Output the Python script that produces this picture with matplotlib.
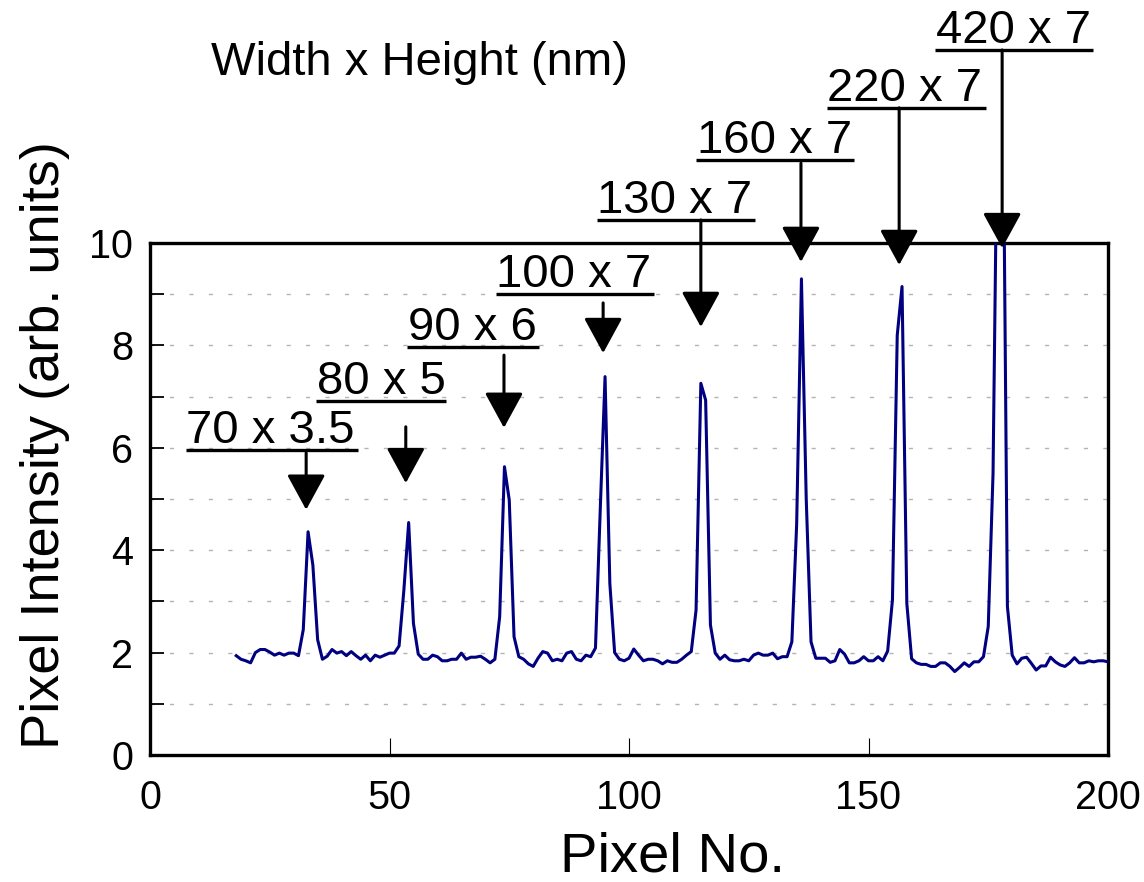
import numpy as np
import matplotlib
matplotlib.use("Agg")
import matplotlib.pyplot as plt

plt.rcParams["font.family"] = ["Liberation Sans", "DejaVu Sans"]
plt.rcParams["lines.scale_dashes"] = False

# pixel profile across the line array
pixel_no = np.arange(18, 201)
intensity = [
    1.94, 1.87, 1.84, 1.80, 2.00, 2.06, 2.06, 2.01, 1.95, 1.99,   # 18-27
    1.95, 1.99, 1.99, 1.94, 2.45, 4.36, 3.71, 2.25, 1.87, 1.93,   # 28-37
    2.06, 1.99, 2.02, 1.94, 2.02, 1.94, 1.87, 1.95, 1.84, 1.95,   # 38-47
    1.91, 1.95, 1.99, 1.99, 2.13, 3.22, 4.54, 2.57, 1.97, 1.87,   # 48-57
    1.87, 1.95, 1.92, 1.84, 1.84, 1.87, 1.87, 1.99, 1.87, 1.91,   # 58-67
    1.91, 1.93, 1.87, 1.80, 1.87, 2.70, 5.63, 4.98, 2.31, 1.92,   # 68-77
    1.87, 1.78, 1.73, 1.89, 2.02, 1.99, 1.84, 1.87, 1.84, 1.99,   # 78-87
    2.02, 1.87, 1.84, 1.95, 1.92, 2.09, 4.80, 7.39, 3.35, 2.00,   # 88-97
    1.87, 1.84, 1.89, 2.07, 1.95, 1.84, 1.87, 1.87, 1.84, 1.78,   # 98-107
    1.84, 1.81, 1.81, 1.87, 1.95, 2.02, 2.83, 7.26, 6.93, 2.54,   # 108-117
    1.99, 1.87, 1.95, 1.86, 1.84, 1.84, 1.87, 1.84, 1.95, 1.99,   # 118-127
    1.95, 1.95, 1.99, 1.88, 1.92, 1.92, 2.21, 4.50, 9.30, 5.00,   # 128-137
    2.21, 1.89, 1.89, 1.89, 1.81, 1.84, 2.06, 1.97, 1.80, 1.80,   # 138-147
    1.84, 1.92, 1.84, 1.84, 1.92, 1.84, 2.03, 3.03, 8.20, 9.15,   # 148-157
    2.96, 1.88, 1.80, 1.77, 1.77, 1.73, 1.73, 1.80, 1.80, 1.73,   # 158-167
    1.63, 1.71, 1.80, 1.73, 1.82, 1.82, 1.92, 2.51, 5.50, 13.5,   # 168-177
    14.0, 2.90, 1.95, 1.78, 1.89, 1.91, 1.79, 1.66, 1.74, 1.74,   # 178-187
    1.91, 1.82, 1.76, 1.73, 1.80, 1.90, 1.80, 1.80, 1.84, 1.82,   # 188-197
    1.84, 1.84, 1.82,                                             # 198-200
]

# line sizes (width x height, nm) and which peak each one marks
labels = ["70 x 3.5", "80 x 5", "90 x 6", "100 x 7",
          "130 x 7", "160 x 7", "220 x 7", "420 x 7"]

# annotation layout in data units: underline (x0, x1, y), arrow (x, y_start, y_tip)
underline_x0 = [7.5, 34.7, 53.7, 72.2, 93.3, 114.0, 141.3, 163.9]
underline_x1 = [43.4, 61.8, 81.2, 105.2, 126.3, 147.0, 174.5, 196.9]
underline_y = [5.96, 6.91, 7.97, 9.00, 10.45, 11.62, 12.64, 13.77]
arrow_x = [32.6, 53.4, 73.9, 94.6, 115.0, 135.9, 156.4, 177.9]
arrow_top = [5.90, 6.41, 7.81, 8.83, 10.45, 11.56, 12.64, 13.77]
arrow_tip = [4.79, 5.31, 6.39, 7.85, 8.36, 9.63, 9.57, 9.90]

fig = plt.figure(figsize=(11.44, 8.82), dpi=100)
ax = fig.add_axes([150 / 1144, 1 - 755 / 882, 958 / 1144, 512 / 882])

ax.plot(pixel_no, intensity, color="#000080", lw=2.2, zorder=3)

ax.set_xlim(0, 200)
ax.set_ylim(0, 10)
ax.set_xticks([0, 50, 100, 150, 200])
ax.set_yticks([0, 2, 4, 6, 8, 10])
ax.set_yticks([1, 3, 5, 7, 9], minor=True)
ax.tick_params(axis="x", direction="in", length=12, width=0.8, pad=17,
               labelsize=28.5, top=False)
ax.tick_params(axis="y", which="both", direction="in", length=10, width=1.3,
               pad=12, labelsize=28.5, right=False)
for s in ax.spines.values():
    s.set_linewidth(2.4)

# dotted horizontal grid at every unit
for g in range(1, 10):
    ax.axhline(g, color="#b4b4b4", lw=1.0, linestyle=(0, (3, 11)), zorder=1)

ax.set_xlabel("Pixel No.", fontsize=40.5, va="center")
ax.xaxis.set_label_coords(0.545, -0.2)
ax.set_ylabel("Pixel Intensity (arb. units)", fontsize=39, va="center")
ax.yaxis.set_label_coords(-0.11, 0.605)

ax.text(12.7, 13.28, "Width x Height (nm)", fontsize=34, va="baseline",
        clip_on=False)

for i, lab in enumerate(labels):
    ax.text(underline_x0[i] + 0.1, underline_y[i] + 0.14, lab, fontsize=34,
            va="baseline", ha="left", clip_on=False)
    ax.plot([underline_x0[i], underline_x1[i]], [underline_y[i], underline_y[i]],
            color="black", lw=2.4, clip_on=False, solid_capstyle="butt")
    ax.annotate("", xy=(arrow_x[i], arrow_tip[i]), xytext=(arrow_x[i], arrow_top[i]),
                arrowprops=dict(arrowstyle="-|>,head_length=1.1,head_width=0.6",
                                mutation_scale=20, lw=2.2, color="black",
                                shrinkA=0, shrinkB=0),
                annotation_clip=False, zorder=4)

fig.savefig("out.png", dpi=100)
